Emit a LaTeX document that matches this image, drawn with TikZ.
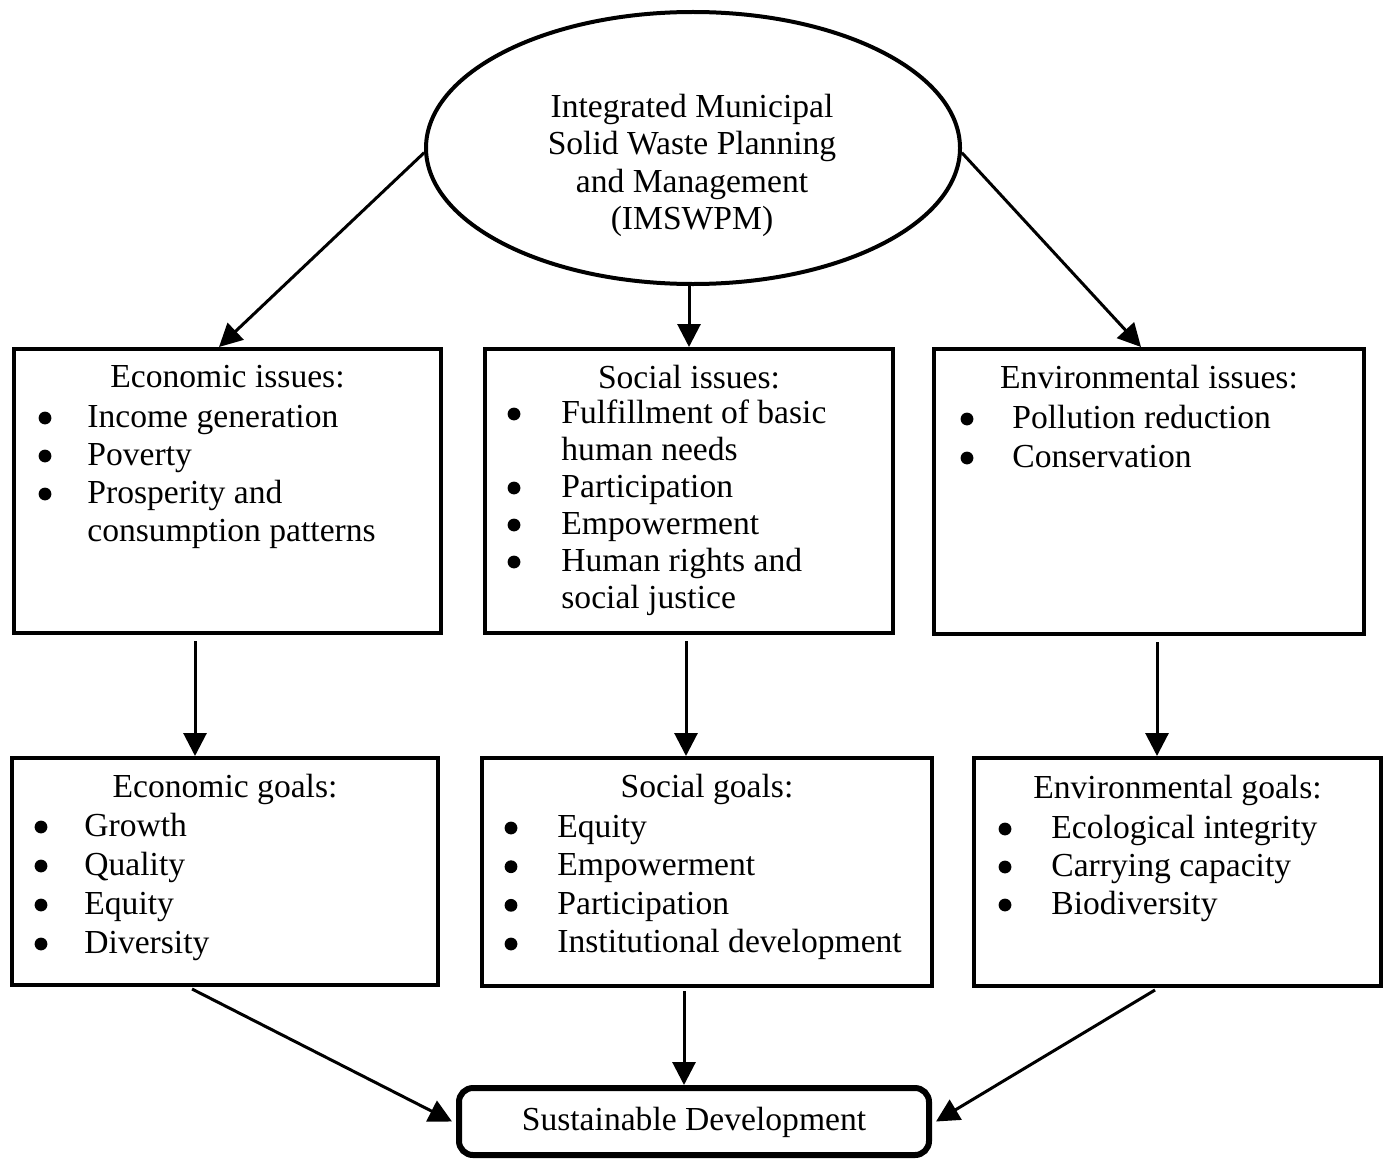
\documentclass[tikz,border=0pt]{standalone}
\usepackage{fontspec}
\setmainfont{Liberation Serif}
\usetikzlibrary{shapes.geometric,arrows.meta}

% body text size with a chosen line pitch
\newcommand\bodyfont[1]{\fontsize{16.8}{#1}\selectfont}

\begin{document}
\begin{tikzpicture}[x=0.5pt,y=-0.5pt,
  panel/.style={draw, rectangle, line width=2pt, inner sep=0pt},
  oval/.style={draw, ellipse, line width=2pt, inner sep=0pt},
  target/.style={draw, rectangle, rounded corners=7pt, line width=3pt, inner sep=0pt},
  headtext/.style={anchor=base, inner sep=0pt, font=\bodyfont{19pt}},
  itemlist/.style={anchor=base west, inner sep=0pt},
  arr/.style={line width=1.5pt, -{Triangle[length=11.5pt,width=11.5pt]}},
  dot/.style={fill=black}
]
% canvas
\fill[white] (0,0) rectangle (1385,1161);
\useasboundingbox (0,0) rectangle (1385,1161);

% central ellipse
\node[oval, minimum width=267pt, minimum height=136pt] (ell) at (693,148) {};
\node[anchor=base, inner sep=0pt] (ellt) at (692,118)
  {\bodyfont{18.5pt}\begin{tabular}[t]{@{}c@{}}Integrated Municipal\\Solid Waste Planning\\and Management\\(IMSWPM)\end{tabular}};

% issue panels
\node[panel, minimum width=213.5pt, minimum height=142pt] (ei) at (227.5,491) {};
\node[panel, minimum width=204pt, minimum height=142pt] (si) at (689,491) {};
\node[panel, minimum width=215pt, minimum height=142.5pt] (vi) at (1149,491.5) {};

% goal panels
\node[panel, minimum width=213pt, minimum height=113.5pt] (eg) at (225,871.5) {};
\node[panel, minimum width=225pt, minimum height=114pt] (sg) at (707,872) {};
\node[panel, minimum width=203.5pt, minimum height=114pt] (vg) at (1177.5,872) {};

% final target
\node[target, minimum width=235pt, minimum height=33.5pt] (sd) at (694,1121.5) {};
\node[headtext] (sdt) at (694,1130) {Sustainable Development};

% headings
\node[headtext] (eih) at (227.5,387) {Economic issues:};
\node[headtext] (sih) at (689,388) {Social issues:};
\node[headtext] (vih) at (1149,388) {Environmental issues:};
\node[headtext] (egh) at (225,797) {Economic goals:};
\node[headtext] (sgh) at (707,797) {Social goals:};
\node[headtext] (vgh) at (1177.5,798) {Environmental goals:};

% item lists
\node[itemlist] (eil) at (87,427)
  {\bodyfont{19pt}\begin{tabular}[t]{@{}l@{}}Income generation\\Poverty\\Prosperity and\\consumption patterns\end{tabular}};
\node[itemlist] (sil) at (561,423)
  {\bodyfont{18.5pt}\begin{tabular}[t]{@{}l@{}}Fulfillment of basic\\human needs\\Participation\\Empowerment\\Human rights and\\social justice\end{tabular}};
\node[itemlist] (vil) at (1012,428)
  {\bodyfont{19.5pt}\begin{tabular}[t]{@{}l@{}}Pollution reduction\\Conservation\end{tabular}};
\node[itemlist] (egl) at (84,836)
  {\bodyfont{19.5pt}\begin{tabular}[t]{@{}l@{}}Growth\\Quality\\Equity\\Diversity\end{tabular}};
\node[itemlist] (sgl) at (557,837)
  {\bodyfont{19.33pt}\begin{tabular}[t]{@{}l@{}}Equity\\Empowerment\\Participation\\Institutional development\end{tabular}};
\node[itemlist] (vgl) at (1051,838)
  {\bodyfont{19pt}\begin{tabular}[t]{@{}l@{}}Ecological integrity\\Carrying capacity\\Biodiversity\end{tabular}};

% bullets
\foreach \y in {427,465,503} \fill[dot] (45,{\y-9}) circle (3.2pt);
\foreach \y in {423,497,534,571} \fill[dot] (514,{\y-9}) circle (3.2pt);
\foreach \y in {428,467} \fill[dot] (967,{\y-9}) circle (3.2pt);
\foreach \y in {836,875,914,953} \fill[dot] (41,{\y-9}) circle (3.2pt);
\foreach \y in {837,875.7,914.3,953} \fill[dot] (511,{\y-9}) circle (3.2pt);
\foreach \y in {838,876,914} \fill[dot] (1005,{\y-9}) circle (3.2pt);

% connectors
\draw[arr] (ell.181) -- ([xshift=-4.25pt]ei.north);
\draw[arr] (ell.south -| si.north) -- (si.north);
\draw[arr] (ell.-1) -- ([xshift=-4pt]vi.north);

\draw[arr] ([xshift=-16.25pt,yshift=-3pt]ei.south) -- ([xshift=-15pt]eg.north);
\draw[arr] ([xshift=-1.5pt,yshift=-3pt]si.south) -- ([xshift=-10.5pt]sg.north);
\draw[arr] ([xshift=4pt,yshift=-3pt]vi.south) -- ([xshift=-10.25pt]vg.north);

\draw[arr] ([xshift=-16.5pt,yshift=-1pt]eg.south) -- ([xshift=-2pt]sd.west);
\draw[arr] ([xshift=-11.5pt,yshift=-1.5pt]sg.south) -- ([xshift=-5pt]sd.north);
\draw[arr] ([xshift=-11.25pt,yshift=-1pt]vg.south) -- ([xshift=2pt]sd.east);
\end{tikzpicture}
\end{document}
